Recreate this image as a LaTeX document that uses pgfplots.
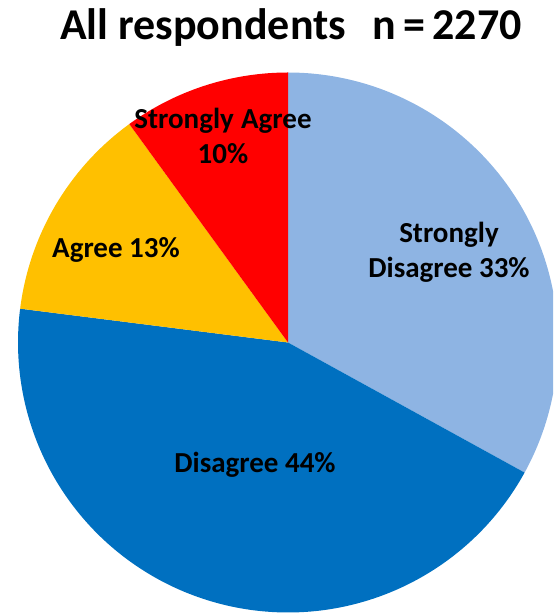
\documentclass[border=0pt]{standalone}
\usepackage{pgfplots}
\pgfplotsset{compat=1.18}
\usepackage{fontspec}
\setmainfont{Carlito}

\definecolor{sdis}{HTML}{8EB4E3}
\definecolor{dis}{HTML}{0070C0}
\definecolor{agr}{HTML}{FFC000}
\definecolor{sagr}{HTML}{FF0000}

\tikzset{lbl/.style={font=\bfseries\fontsize{14.5}{17.5}\selectfont, align=center, inner sep=0pt}}

% shares: Strongly Disagree 33, Disagree 44, Agree 13, Strongly Agree 10
% sectors run clockwise from the top, 3.6 degrees per percent
\begin{document}
\begin{tikzpicture}
\begin{axis}[
    name=pie,
    hide axis,
    scale only axis,
    x=0.5pt, y=0.5pt,
    xmin=-288, xmax=265,
    ymin=-272.5, ymax=342.5,
    clip=true,
]
\addplot[draw=none, fill=sdis, domain=-28.8:90, samples=120]
    ({270*cos(x)}, {270*sin(x)}) -- (axis cs:0,0) -- cycle;
\addplot[draw=none, fill=dis, domain=-187.2:-28.8, samples=150]
    ({270*cos(x)}, {270*sin(x)}) -- (axis cs:0,0) -- cycle;
\addplot[draw=none, fill=agr, domain=-234:-187.2, samples=60]
    ({270*cos(x)}, {270*sin(x)}) -- (axis cs:0,0) -- cycle;
\addplot[draw=none, fill=sagr, domain=-270:-234, samples=50]
    ({270*cos(x)}, {270*sin(x)}) -- (axis cs:0,0) -- cycle;

\node[lbl] at (axis cs:-65,206.5) {Strongly\hspace{0.25em}Agree\\10\%};
\node[lbl] at (axis cs:-172,92.5) {Agree 13\%};
\node[lbl] at (axis cs:161,90.5) {Strongly\\Disagree 33\%};
\node[lbl] at (axis cs:-33,-122.5) {Disagree 44\%};
\node[lbl, font=\bfseries\fontsize{22}{26}\selectfont] at (axis cs:3,314.5)
    {All respondents\hspace{0.6em}n\,=\,2270};
\end{axis}
\pgfresetboundingbox
\useasboundingbox (pie.south west) rectangle (pie.north east);
\end{tikzpicture}
\end{document}
